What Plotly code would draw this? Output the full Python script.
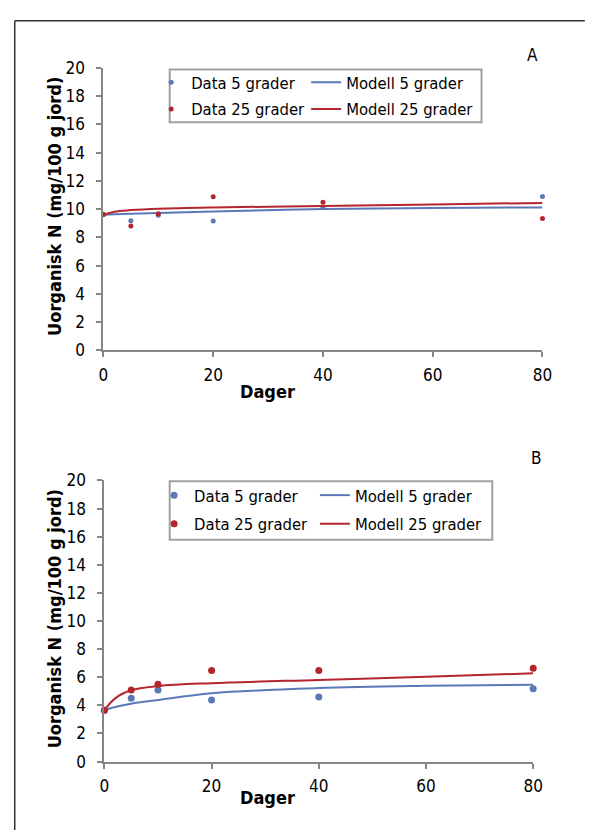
import plotly.graph_objects as go

# ---------------- data ----------------
days = [0, 5, 10, 20, 40, 80]
model_days = [0, 2, 5, 10, 20, 40, 60, 80]

a_data5 = [9.6, 9.17, 9.56, 9.15, 10.12, 10.9]
a_data25 = [9.63, 8.8, 9.68, 10.88, 10.48, 9.33]
a_model5 = [9.6, 9.64, 9.68, 9.73, 9.84, 10.0, 10.08, 10.12]
a_model25 = [9.6, 9.82, 9.93, 10.03, 10.12, 10.22, 10.33, 10.44]

b_data5 = [3.66, 4.51, 5.09, 4.38, 4.6, 5.19]
b_data25 = [3.66, 5.09, 5.51, 6.48, 6.48, 6.64]
b_model5 = [3.66, 3.88, 4.12, 4.38, 4.86, 5.23, 5.39, 5.47]
b_model25 = [3.66, 4.5, 5.07, 5.37, 5.58, 5.81, 6.03, 6.28]

x_ticks = [0, 20, 40, 60, 80]
y_ticks = [0, 2, 4, 6, 8, 10, 12, 14, 16, 18, 20]
x_title = "Dager"
y_title = "Uorganisk N (mg/100 g jord)"
names = ["Data 5 grader", "Modell 5 grader", "Data 25 grader", "Modell 25 grader"]

# ---------------- style ----------------
W, H = 589, 836
BLUE = "#5B79B7"
RED = "#B5252E"
AXC = "#868686"
FONT = "DejaVu Sans Condensed"
FONTB = "DejaVu Sans Condensed"


def px(x):
    return x / W


def py(y):
    return 1 - y / H


fig = go.Figure()

# panel A
fig.add_trace(go.Scatter(x=days, y=a_data5, mode="markers", name=names[0],
                         marker=dict(color=BLUE, size=5), cliponaxis=False,
                         xaxis="x", yaxis="y", legend="legend", showlegend=True))
fig.add_trace(go.Scatter(x=model_days, y=a_model5, mode="lines", name=names[1],
                         line=dict(color=BLUE, width=2, shape="spline"),
                         xaxis="x", yaxis="y", legend="legend2", showlegend=True))
fig.add_trace(go.Scatter(x=days, y=a_data25, mode="markers", name=names[2],
                         marker=dict(color=RED, size=5), cliponaxis=False,
                         xaxis="x", yaxis="y", legend="legend3", showlegend=True))
fig.add_trace(go.Scatter(x=model_days, y=a_model25, mode="lines", name=names[3],
                         line=dict(color=RED, width=2, shape="spline"),
                         xaxis="x", yaxis="y", legend="legend4", showlegend=True))

# panel B
fig.add_trace(go.Scatter(x=days, y=b_data5, mode="markers", name=names[0],
                         marker=dict(color=BLUE, size=7), cliponaxis=False,
                         xaxis="x2", yaxis="y2", legend="legend5", showlegend=True))
fig.add_trace(go.Scatter(x=model_days, y=b_model5, mode="lines", name=names[1],
                         line=dict(color=BLUE, width=2, shape="spline"),
                         xaxis="x2", yaxis="y2", legend="legend6", showlegend=True))
fig.add_trace(go.Scatter(x=days, y=b_data25, mode="markers", name=names[2],
                         marker=dict(color=RED, size=7), cliponaxis=False,
                         xaxis="x2", yaxis="y2", legend="legend7", showlegend=True))
fig.add_trace(go.Scatter(x=model_days, y=b_model25, mode="lines", name=names[3],
                         line=dict(color=RED, width=2, shape="spline"),
                         xaxis="x2", yaxis="y2", legend="legend8", showlegend=True))

axis_common = dict(
    showgrid=False, zeroline=False, showline=True, linecolor=AXC, linewidth=2,
    ticks="outside", ticklen=5, tickwidth=1.5, tickcolor=AXC,
    tickfont=dict(family=FONT, size=17, color="#000"), fixedrange=True,
)

fig.update_layout(
    width=W, height=H, margin=dict(l=0, r=0, t=0, b=0),
    paper_bgcolor="white", plot_bgcolor="white", showlegend=True,
    font=dict(family=FONT, size=16, color="#000"),
    xaxis=dict(domain=[px(101), px(551.5)], range=[0, 80], tickvals=x_ticks,
               anchor="y", ticklabelstandoff=3, **axis_common),
    yaxis=dict(domain=[py(348.7), py(59.3)], range=[0, 20], tickvals=y_ticks,
               anchor="x", ticklabelstandoff=8, **axis_common),
    xaxis2=dict(domain=[px(102), px(542)], range=[0, 80], tickvals=x_ticks,
                anchor="y2", ticklabelstandoff=3, **axis_common),
    yaxis2=dict(domain=[py(770), py(482)], range=[0, 20], tickvals=y_ticks,
                anchor="x2", ticklabelstandoff=8, **axis_common),
)

# legends: one entry each, placed in a 2x2 grid inside a drawn box
leg_font = dict(family=FONT, size=16.5, color="#000")
leg_pos = {
    "legend": (190, 74.3), "legend2": (349, 74.3),
    "legend3": (190, 101.7), "legend4": (349, 101.7),
    "legend5": (193, 497.3), "legend6": (358, 497.3),
    "legend7": (193, 526.7), "legend8": (358, 526.7),
}
for key, (tx, ty) in leg_pos.items():
    fig.layout[key] = dict(x=px(tx - 40), y=py(ty), xanchor="left", yanchor="middle",
                           bgcolor="rgba(0,0,0,0)", borderwidth=0, font=leg_font,
                           visible=True, itemclick=False, itemdoubleclick=False)

shapes = [
    # outer frame (left and top edges visible)
    dict(type="line", xref="paper", yref="paper", x0=px(10), x1=px(10), y0=py(11), y1=py(840),
         line=dict(color="#333", width=1.5)),
    dict(type="line", xref="paper", yref="paper", x0=px(10), x1=px(595), y0=py(11), y1=py(11),
         line=dict(color="#333", width=1.5)),
    # legend boxes
    dict(type="rect", xref="paper", yref="paper", x0=px(169), x1=px(489), y0=py(115), y1=py(61),
         line=dict(color="#A0A0A0", width=2)),
    dict(type="rect", xref="paper", yref="paper", x0=px(169), x1=px(500), y0=py(542.7), y1=py(482.7),
         line=dict(color="#A0A0A0", width=2)),
]
fig.update_layout(shapes=shapes)

common_ann = dict(xref="paper", yref="paper", showarrow=False, xanchor="center", yanchor="middle")
ann = [
    dict(text="A", x=px(541.5), y=py(46), font=dict(family=FONT, size=17, color="#000"), **common_ann),
    dict(text="B", x=px(545), y=py(459), font=dict(family=FONT, size=17, color="#000"), **common_ann),
    dict(text="<b>" + x_title + "</b>", x=px(269), y=py(391),
         font=dict(family=FONTB, size=18, color="#000"), **common_ann),
    dict(text="<b>" + x_title + "</b>", x=px(269.5), y=py(807),
         font=dict(family=FONTB, size=18, color="#000"), **common_ann),
    dict(text="<b>" + y_title + "</b>", x=px(50.5), y=py(201.5), textangle=-90,
         font=dict(family=FONTB, size=18, color="#000"), **common_ann),
    dict(text="<b>" + y_title + "</b>", x=px(50.5), y=py(624), textangle=-90,
         font=dict(family=FONTB, size=18, color="#000"), **common_ann),
]
fig.update_layout(annotations=ann)

fig.write_html("out.html")
